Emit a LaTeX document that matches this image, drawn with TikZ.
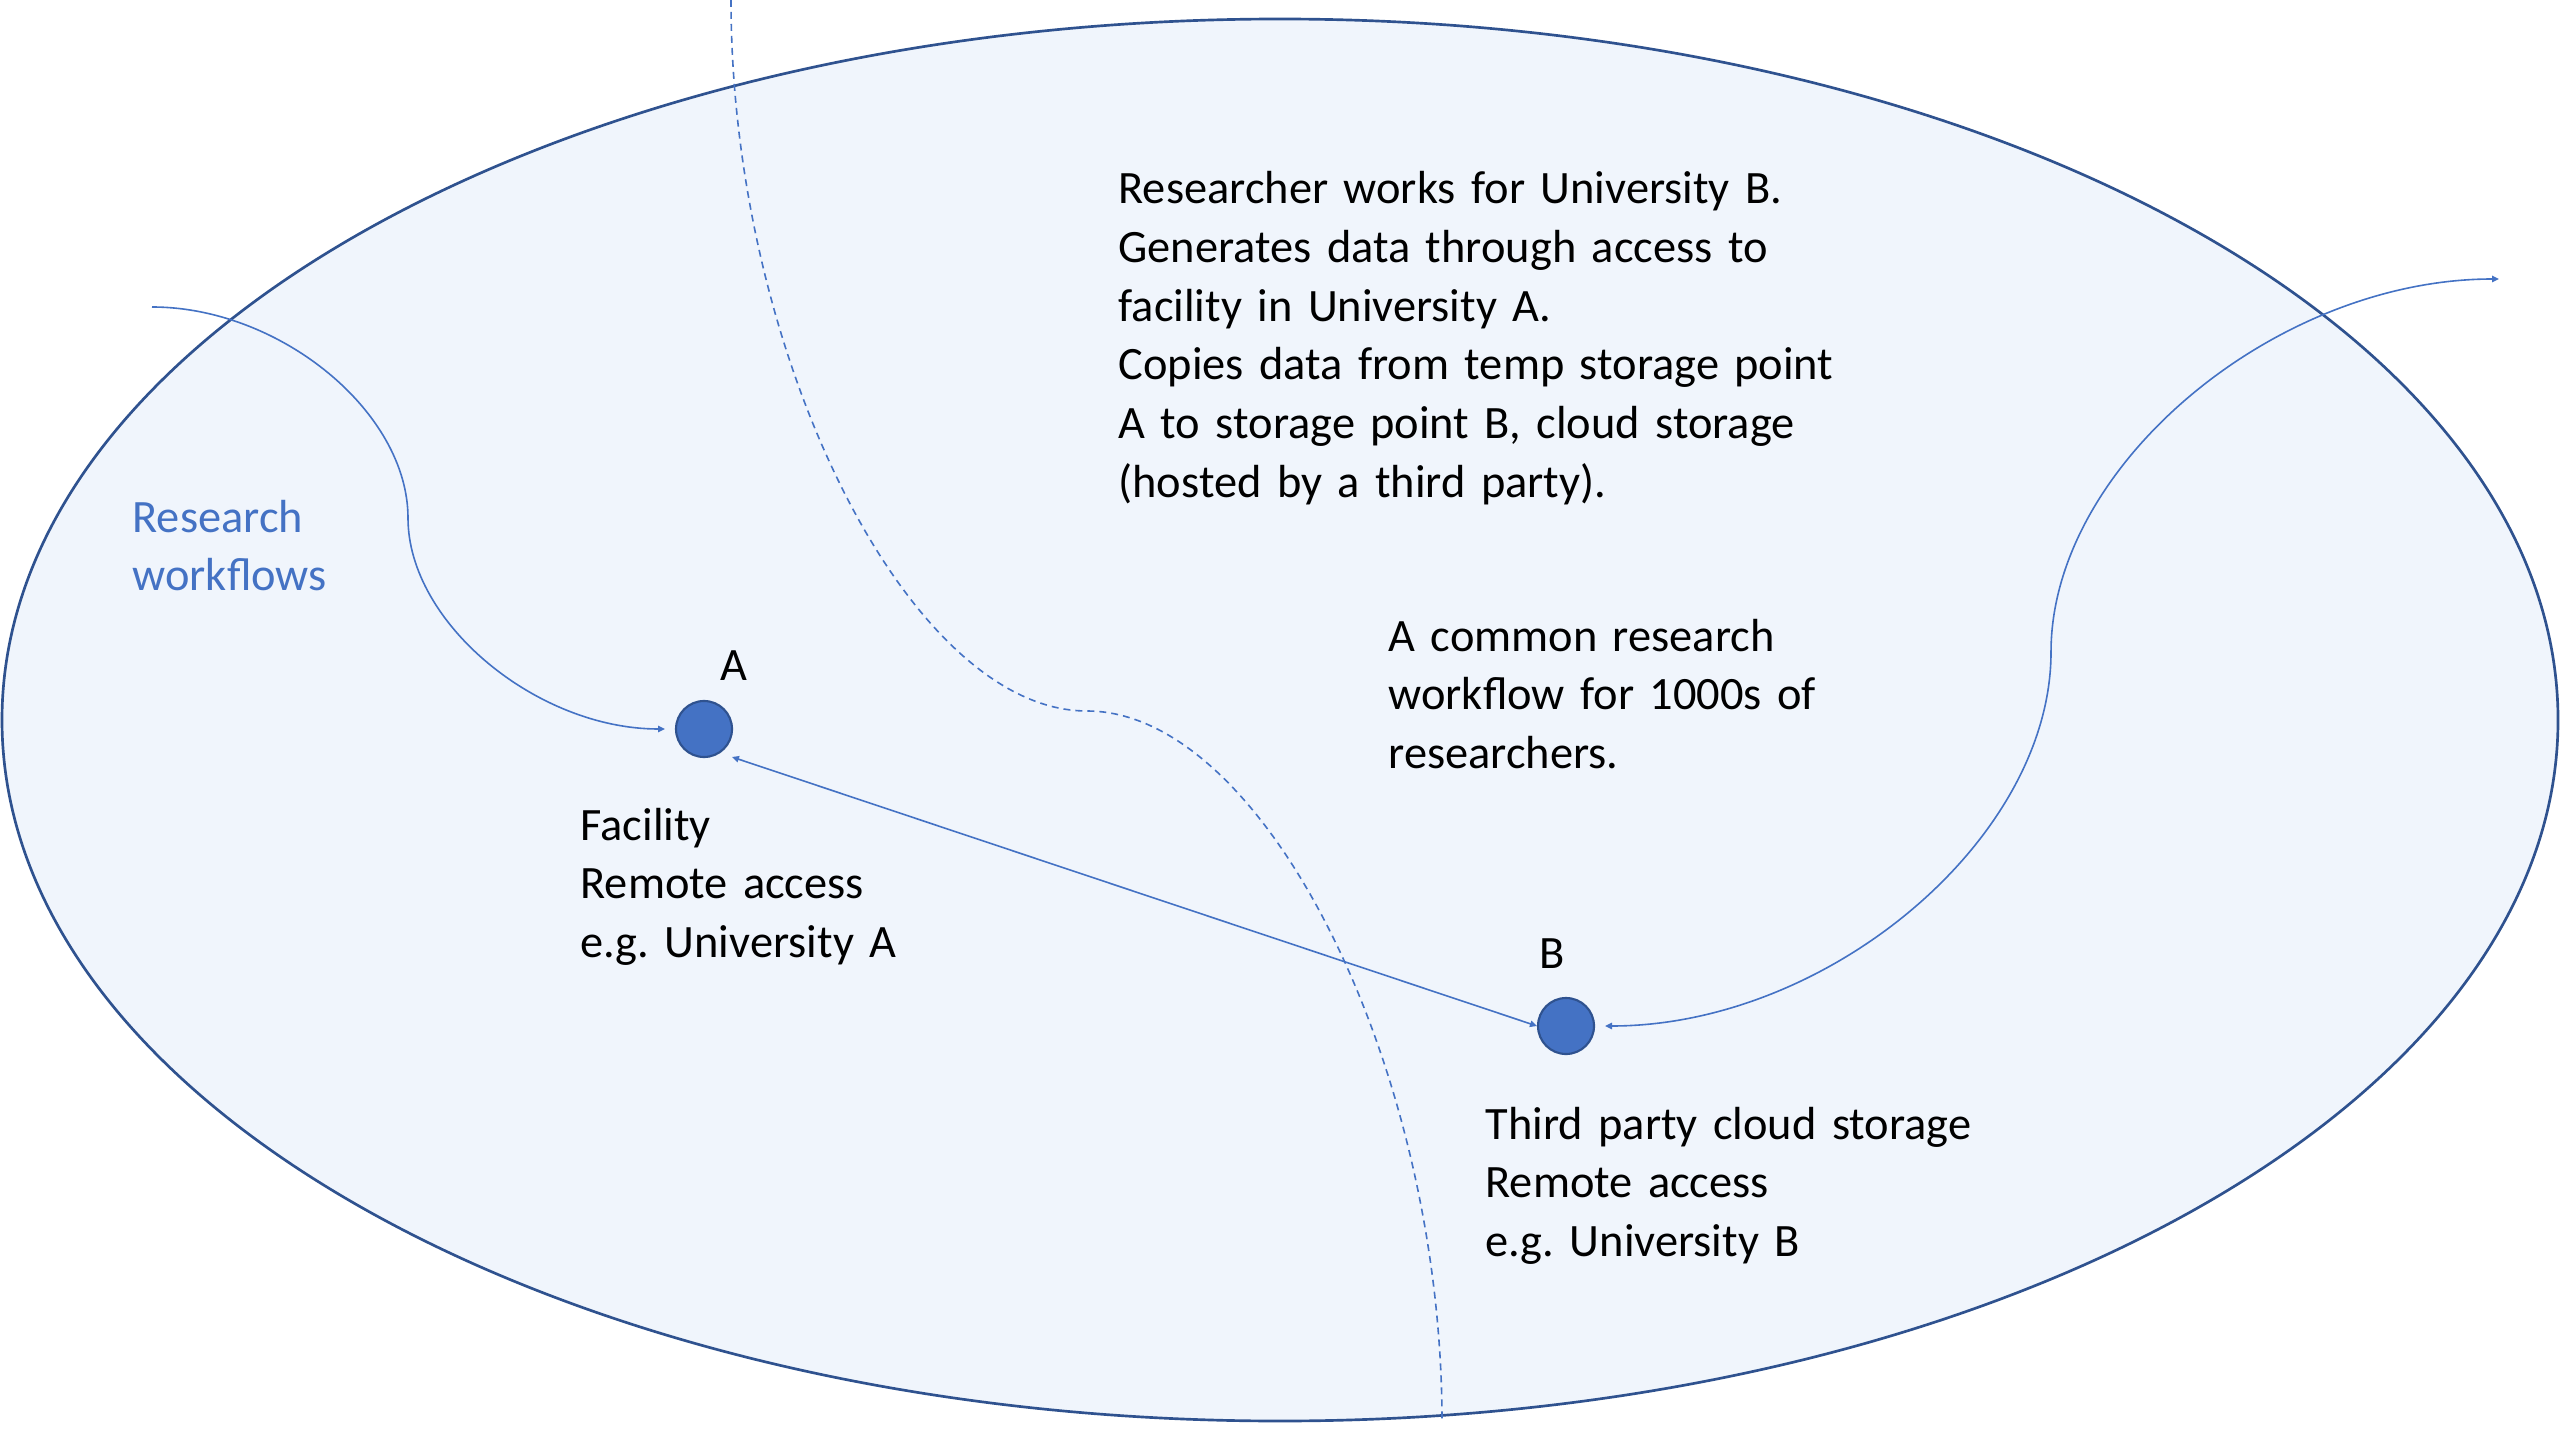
\documentclass[tikz,border=0pt]{standalone}
\usepackage{fontspec}
\setmainfont{Carlito}
\usetikzlibrary{arrows.meta,calc}
\definecolor{ellfill}{HTML}{F0F5FC}
\definecolor{ellline}{HTML}{2F528F}
\definecolor{accent}{HTML}{4472C4}
\tikzset{mytip/.tip={Triangle[length=2.6pt,width=2.4pt]}}
\frenchspacing
\begin{document}
\begin{tikzpicture}[x=0.375pt,y=-0.375pt,
  region/.style={draw=ellline, line width=1pt, fill=ellfill},
  site/.style={circle, fill=accent, draw=ellline, line width=0.8pt, minimum size=21pt, inner sep=0pt},
  flow/.style={draw=accent, line width=0.6pt},
  boundary/.style={draw=accent, line width=0.6pt, dash pattern=on 2.6pt off 1.9pt},
  txt/.style={anchor=base west, inner sep=0pt, text width=400pt, align=left, font=\fontsize{17.4pt}{22pt}\selectfont\frenchspacing},
  lbl/.style={anchor=base, inner sep=0pt, font=\fontsize{17.4pt}{22pt}\selectfont},
]
\useasboundingbox (0,0) rectangle (2560,1440);
\fill[white] (0,0) rectangle (2560,1440);
\path[region] (1280,720) ellipse [x radius=1278, y radius=701];

% boundary between institutions
\draw[boundary] (731,0) .. controls (731,355) and (909,711) .. (1087,711)
  .. controls (1264,711) and (1442,1066) .. (1442,1422);

% sites
\node[site] (A) at (704,729) {};
\node[site] (B) at (1566,1026) {};
\node[lbl] (la) at (734,680) {A};
\node[lbl] (lb) at (1552,968) {B};

% connectors
\coordinate (inL) at (152,307);
\coordinate (outR) at (2499,279);
\draw[flow,-{mytip}] (inL) .. controls (280,307) and (408,412) .. (408,518)
  .. controls (408,623) and (537,729) .. ($(A.west)+(-10,0)$);
\draw[flow,{mytip}-{mytip}] ($(A.center)+(28,28)$) -- (B.west);
\draw[flow,{mytip}-{mytip}] ($(B.east)+(10,0)$) .. controls (1828,1026) and (2051,839) .. (2051,652)
  .. controls (2051,466) and (2275,279) .. (outR);

% texts
\node[txt] (desc) at (1118,204) {Researcher works for University B.\\Generates data through access to\\facility in University A.\\Copies data from temp storage point\\A to storage point B, cloud storage\\(hosted by a third party).};
\node[txt] (common) at (1388,651) {A common research\\workflow for 1000s of\\researchers.};
\node[txt] (facA) at (580,840) {Facility\\Remote access\\e.g. University A};
\node[txt] (facB) at (1485,1139) {Third party cloud storage\\Remote access\\e.g. University B};
\node[txt, text=accent] (rw) at (132,532) {Research\\workflows};
\end{tikzpicture}
\end{document}
